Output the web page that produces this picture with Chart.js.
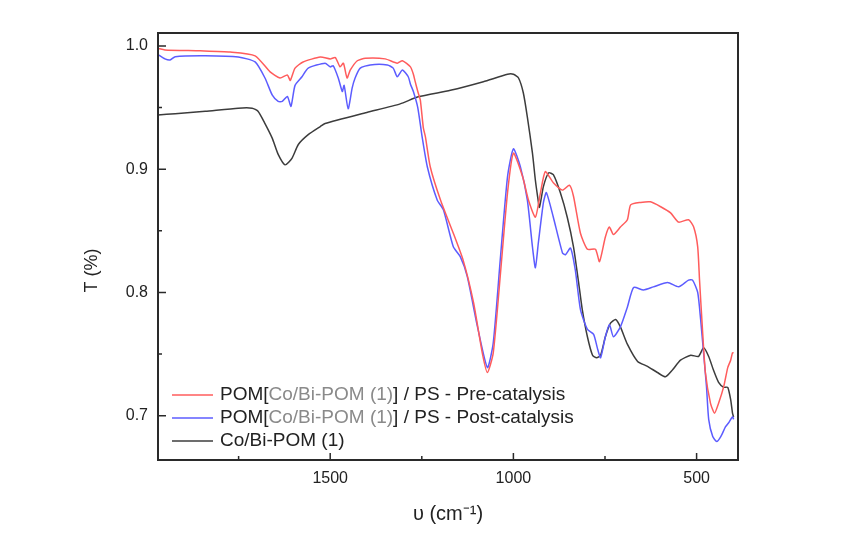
<!DOCTYPE html>
<html>
<head>
<meta charset="utf-8">
<script src="https://cdn.jsdelivr.net/npm/chart.js@4.4.1/dist/chart.umd.min.js"></script>
<style>
  body { margin: 0; background: #fff; }
</style>
</head>
<body>
<canvas id="irChart" width="841" height="549"></canvas>
<script>
// series labels
const labels = [
    "POM[Co/Bi-POM (1)] / PS - Pre-catalysis",
    "POM[Co/Bi-POM (1)] / PS - Post-catalysis",
    "Co/Bi-POM (1)"
];

// pre-catalysis (red)
const preX = [1970,1951,1855,1773,1705,1664,1637,1617,1609,1596,1574,1527,1500,1486,1473,1464,1454,1445,1426,1404,1350,1317,1303,1281,1273,1268,1260,1254,1246,1240,1227,1199,1164,1137,1109,1085,1071,1055,1036,1016,1000,975,959,940,926,913,891,866,847,836,817,798,776,765,749,738,727,708,689,680,653,626,598,571,549,522,508,497,492,484,476,462,451,440,426,415,407,402,399];
const preY = [0.998,0.9968,0.996,0.995,0.992,0.979,0.974,0.9765,0.972,0.982,0.987,0.991,0.9895,0.9905,0.983,0.986,0.974,0.9805,0.988,0.990,0.9895,0.986,0.988,0.983,0.977,0.971,0.962,0.956,0.934,0.926,0.902,0.875,0.848,0.826,0.792,0.751,0.735,0.751,0.813,0.881,0.913,0.894,0.875,0.861,0.881,0.898,0.889,0.883,0.887,0.878,0.848,0.835,0.835,0.825,0.845,0.853,0.847,0.853,0.859,0.871,0.873,0.8735,0.8695,0.8645,0.857,0.859,0.853,0.837,0.810,0.770,0.735,0.710,0.702,0.710,0.7235,0.739,0.745,0.751,0.751];

// post-catalysis (blue)
const postX = [1970,1951,1937,1923,1841,1751,1705,1678,1658,1642,1631,1617,1607,1596,1577,1560,1514,1500,1492,1478,1467,1462,1451,1440,1432,1418,1391,1344,1328,1317,1303,1287,1281,1273,1261,1249,1235,1208,1191,1164,1145,1126,1098,1071,1055,1036,1016,1000,981,962,948,940,932,918,910,891,866,858,844,831,817,798,781,771,762,749,738,727,708,689,672,645,618,579,549,522,511,497,489,481,473,467,456,445,434,421,413,402,399];
const postY = [0.993,0.9895,0.9886,0.9913,0.992,0.991,0.987,0.974,0.960,0.955,0.955,0.959,0.951,0.968,0.975,0.982,0.986,0.983,0.984,0.974,0.963,0.968,0.949,0.966,0.974,0.982,0.9846,0.9846,0.982,0.975,0.9805,0.975,0.969,0.963,0.950,0.926,0.902,0.875,0.867,0.837,0.829,0.813,0.772,0.739,0.759,0.826,0.894,0.9165,0.902,0.875,0.837,0.820,0.840,0.873,0.881,0.861,0.832,0.8305,0.836,0.818,0.786,0.770,0.766,0.755,0.747,0.764,0.774,0.764,0.772,0.788,0.804,0.802,0.8045,0.808,0.8045,0.810,0.810,0.800,0.778,0.751,0.7235,0.697,0.683,0.679,0.683,0.691,0.694,0.699,0.697];

// Co/Bi-POM (black)
const pomX = [1970,1923,1841,1751,1713,1697,1678,1658,1642,1623,1604,1587,1560,1527,1514,1400,1309,1260,1172,1082,1016,1000,986,973,962,948,940,934,929,918,904,891,872,853,836,822,812,798,784,773,762,749,735,721,708,689,661,634,607,585,566,544,516,495,481,467,454,440,426,415,407,402,399];
const pomY = [0.944,0.945,0.947,0.9495,0.9495,0.947,0.937,0.925,0.912,0.9035,0.909,0.920,0.928,0.9346,0.937,0.946,0.953,0.9587,0.964,0.971,0.977,0.977,0.974,0.962,0.9425,0.913,0.891,0.878,0.869,0.886,0.897,0.8955,0.881,0.861,0.837,0.808,0.786,0.764,0.749,0.747,0.749,0.764,0.775,0.778,0.772,0.758,0.744,0.740,0.735,0.7315,0.737,0.745,0.749,0.748,0.755,0.748,0.737,0.727,0.723,0.723,0.713,0.702,0.699];

// axis ticks
const xTicks = [500, 750, 1000, 1250, 1500, 1750];
const yTicks = [0.70, 0.75, 0.80, 0.85, 0.90, 0.95, 1.00];

const colors = ["#ff5c5c", "#5c5cff", "#3c3c3c"];
const fontFamily = '"Liberation Sans", Arial, sans-serif';

function pts(xs, ys) {
    return xs.map((v, i) => ({ x: v, y: ys[i] }));
}

// frame with inward tick marks, plus the y title
const frameTicks = {
    id: 'frameTicks',
    afterDraw(chart) {
        const { ctx, chartArea: a, scales: { x, y } } = chart;
        ctx.save();
        ctx.strokeStyle = '#2a2a2a';
        ctx.lineWidth = 2;
        ctx.strokeRect(a.left, a.top, a.right - a.left, a.bottom - a.top);
        ctx.lineWidth = 1.5;
        ctx.beginPath();
        xTicks.forEach(v => {
            const px = x.getPixelForValue(v);
            const len = v % 500 === 0 ? 7 : 4;
            ctx.moveTo(px, a.bottom);
            ctx.lineTo(px, a.bottom - len);
        });
        yTicks.forEach(v => {
            const py = y.getPixelForValue(v);
            const len = Math.round(v * 100) % 10 === 0 ? 8 : 4;
            ctx.moveTo(a.left, py);
            ctx.lineTo(a.left + len, py);
        });
        ctx.stroke();

        // y title, sits a bit below the middle in the original
        ctx.translate(a.left - 66, (a.top + a.bottom) / 2 + 24);
        ctx.rotate(-Math.PI / 2);
        ctx.font = '18px ' + fontFamily;
        ctx.fillStyle = '#222';
        ctx.textAlign = 'center';
        ctx.textBaseline = 'middle';
        ctx.fillText('T (%)', 0, 0);
        ctx.restore();
    }
};

// legend inside the plot, brackets part in grey
const insideLegend = {
    id: 'insideLegend',
    afterDatasetsDraw(chart) {
        const { ctx, chartArea: a } = chart;
        ctx.save();
        ctx.font = '19px ' + fontFamily;
        ctx.textBaseline = 'middle';
        const rows = [a.bottom - 65, a.bottom - 42, a.bottom - 19];
        chart.data.datasets.forEach((ds, i) => {
            const yy = rows[i];
            ctx.strokeStyle = ds.borderColor;
            ctx.lineWidth = 1.5;
            ctx.beginPath();
            ctx.moveTo(a.left + 14, yy);
            ctx.lineTo(a.left + 55, yy);
            ctx.stroke();
            let tx = a.left + 62;
            const t = ds.label;
            const i1 = t.indexOf('['), i2 = t.indexOf(']');
            let parts = [[t, '#222']];
            if (i1 >= 0 && i2 > i1) {
                parts = [[t.slice(0, i1 + 1), '#222'], [t.slice(i1 + 1, i2), '#8a8a8a'], [t.slice(i2), '#222']];
            }
            parts.forEach(p => {
                ctx.fillStyle = p[1];
                ctx.fillText(p[0], tx, yy);
                tx += ctx.measureText(p[0]).width;
            });
        });
        ctx.restore();
    }
};

new Chart(document.getElementById('irChart'), {
    type: 'scatter',
    data: {
        datasets: [
            { label: labels[0], data: pts(preX, preY), borderColor: colors[0] },
            { label: labels[1], data: pts(postX, postY), borderColor: colors[1] },
            { label: labels[2], data: pts(pomX, pomY), borderColor: colors[2] }
        ].map(d => Object.assign(d, {
            showLine: true, pointRadius: 0, borderWidth: 1.5, tension: 0.2, fill: false
        }))
    },
    options: {
        responsive: false,
        animation: false,
        layout: { padding: { left: 80, right: 103, top: 33, bottom: 20 } },
        plugins: { legend: { display: false }, tooltip: { enabled: false } },
        scales: {
            x: {
                type: 'linear',
                reverse: true,
                min: 387,
                max: 1970,
                afterBuildTicks: s => { s.ticks = xTicks.map(v => ({ value: v })); },
                afterFit: s => { s.height = 69; },
                grid: { display: false, drawTicks: false },
                border: { display: false },
                ticks: {
                    padding: 9,
                    color: '#222',
                    font: { family: fontFamily, size: 16 },
                    callback: v => (v % 500 === 0 ? String(v) : '')
                },
                title: {
                    display: true,
                    text: 'υ (cm⁻¹)',
                    color: '#222',
                    padding: { top: 0, bottom: 3 },
                    font: { family: fontFamily, size: 20 }
                }
            },
            y: {
                min: 0.664,
                max: 1.0105,
                afterBuildTicks: s => { s.ticks = yTicks.map(v => ({ value: v })); },
                afterFit: s => { s.width = 78; },
                grid: { display: false, drawTicks: false },
                border: { display: false },
                ticks: {
                    padding: 10,
                    color: '#222',
                    font: { family: fontFamily, size: 16 },
                    callback: v => (Math.round(v * 100) % 10 === 0 ? v.toFixed(1) : '')
                }
            }
        }
    },
    plugins: [frameTicks, insideLegend]
});
</script>
</body>
</html>
